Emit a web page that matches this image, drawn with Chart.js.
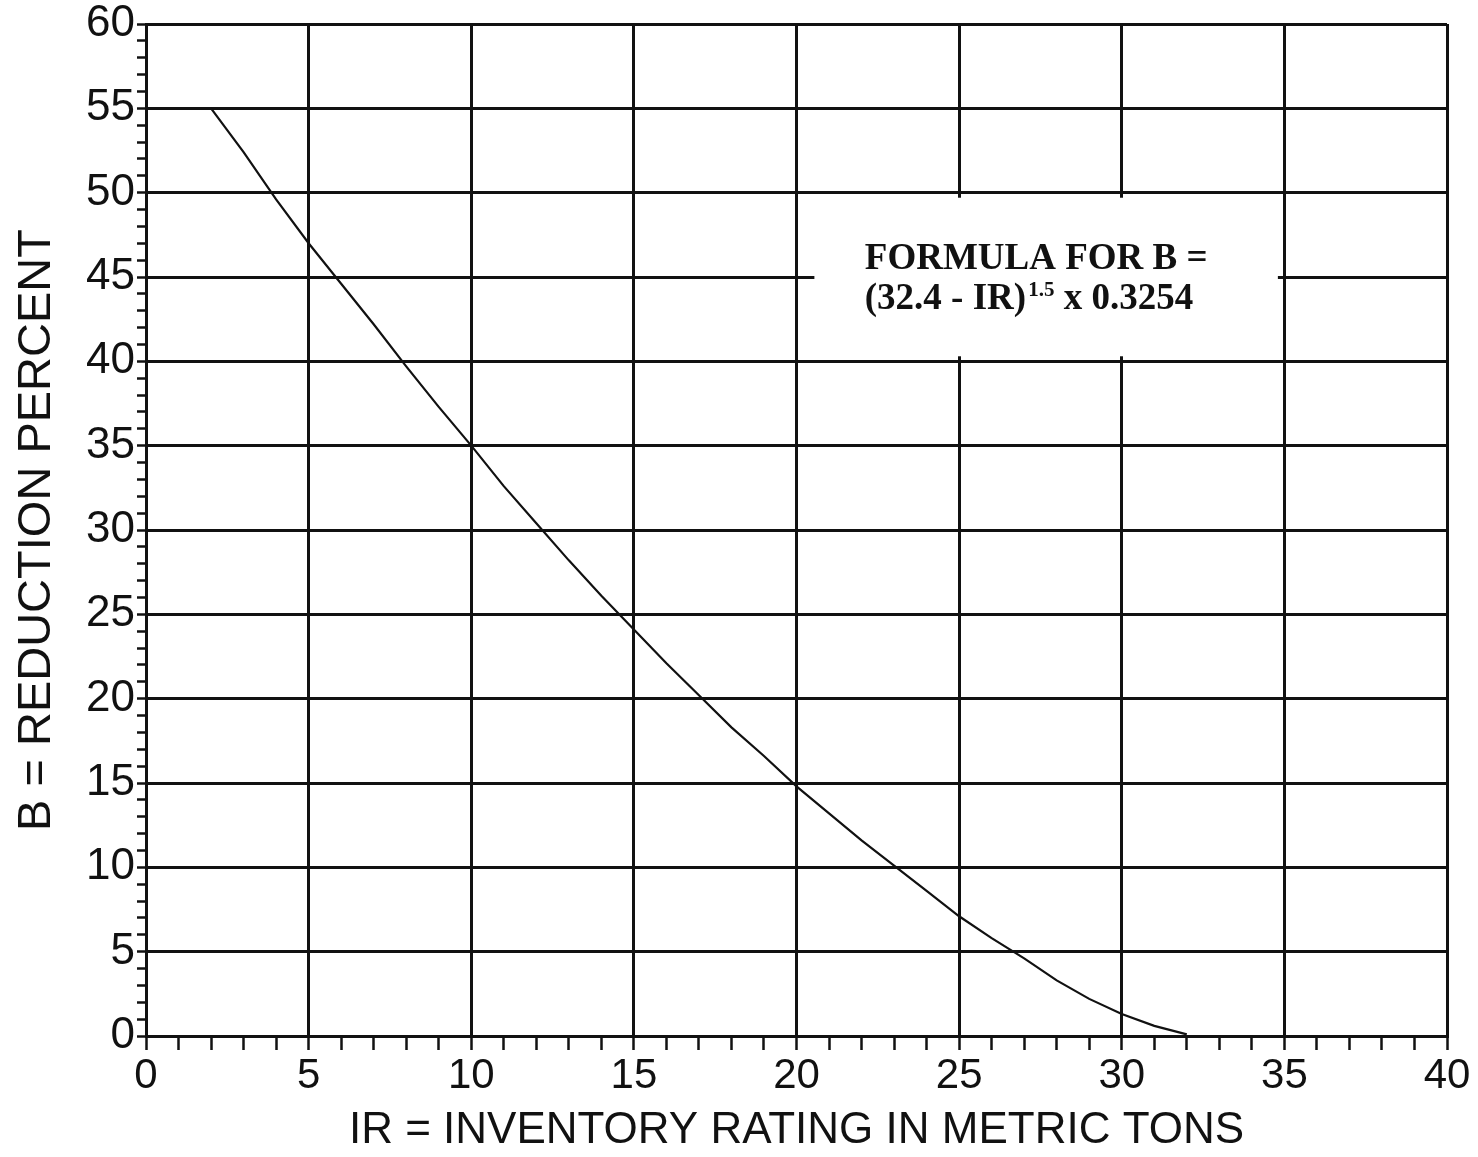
<!DOCTYPE html>
<html>
<head>
<meta charset="utf-8">
<script src="https://cdn.jsdelivr.net/npm/chart.js@4.4.1/dist/chart.umd.min.js"></script>
<style>
  html, body { margin: 0; padding: 0; background: #fff; }
  #wrap { width: 1478px; height: 1157px; }
</style>
</head>
<body>
<div id="wrap"><canvas id="chart" width="1478" height="1157"></canvas></div>
<script>
// values
const irValues = [2, 3, 4, 5, 6, 7, 8, 9, 10, 11, 12, 13, 14, 15, 16, 17, 18, 19, 20,
  21, 22, 23, 24, 25, 26, 27, 28, 29, 30, 31, 32];
const bValues = [55.0, 52.4, 49.6, 47.0, 44.6, 42.2, 39.7, 37.3, 35.0, 32.6, 30.4, 28.2,
  26.1, 24.1, 22.1, 20.2, 18.3, 16.6, 14.8, 13.2, 11.6, 10.1, 8.6, 7.1, 5.8, 4.6, 3.3,
  2.2, 1.3, 0.6, 0.1];

const xTickLabels = ['0', '5', '10', '15', '20', '25', '30', '35', '40'];
const yTickLabels = ['0', '5', '10', '15', '20', '25', '30', '35', '40', '45', '50', '55', '60'];

const xTitle = 'IR = INVENTORY RATING IN METRIC TONS';
const yTitle = 'B = REDUCTION PERCENT';
const formulaLine1 = 'FORMULA FOR B =';
const formulaLine2a = '(32.4 - IR)';
const formulaExp = '1.5';
const formulaLine2b = ' x 0.3254';

const sans = "'Liberation Sans', Arial, sans-serif";
const serif = "'Liberation Serif', 'Times New Roman', serif";

const points = irValues.map((x, i) => ({ x, y: bValues[i] }));

// white box with the formula, placed in data units
const formulaBox = {
  id: 'formulaBox',
  afterDraw(chart) {
    const { ctx, scales: { x, y } } = chart;
    const left = x.getPixelForValue(20.55);
    const right = x.getPixelForValue(34.8);
    const top = y.getPixelForValue(49.7);
    const bottom = y.getPixelForValue(40.3);
    ctx.save();
    ctx.fillStyle = '#fff';
    ctx.fillRect(left, top, right - left, bottom - top);

    ctx.fillStyle = '#111';
    ctx.textBaseline = 'alphabetic';
    ctx.textAlign = 'left';
    ctx.font = 'bold 37px ' + serif;
    const tx = x.getPixelForValue(22.1);
    const b1 = y.getPixelForValue(45.45);
    const b2 = y.getPixelForValue(43.1);
    ctx.fillText(formulaLine1, tx, b1);
    ctx.fillText(formulaLine2a, tx, b2);
    let cx = tx + ctx.measureText(formulaLine2a).width + 2;
    ctx.font = 'bold 21px ' + serif;
    ctx.fillText(formulaExp, cx, b2 - 13);
    cx += ctx.measureText(formulaExp).width;
    ctx.font = 'bold 37px ' + serif;
    ctx.fillText(formulaLine2b, cx, b2);
    ctx.restore();
  }
};

const ctx = document.getElementById('chart').getContext('2d');
new Chart(ctx, {
  type: 'line',
  data: {
    datasets: [{
      data: points,
      borderColor: '#111',
      borderWidth: 2.2,
      pointRadius: 0,
      tension: 0,
      fill: false
    }]
  },
  options: {
    responsive: false,
    animation: false,
    layout: { padding: { top: 24, right: 31, left: 0, bottom: 0 } },
    plugins: {
      legend: { display: false },
      tooltip: { enabled: false }
    },
    scales: {
      x: {
        type: 'linear',
        min: 0,
        max: 40,
        afterFit(scale) { scale.height = 121; },
        border: { display: true, color: '#111', width: 3 },
        grid: {
          color: c => (c.tick && c.tick.value % 5 === 0) ? '#111' : 'rgba(0,0,0,0)',
          lineWidth: 3,
          tickColor: '#111',
          tickWidth: 2.5,
          tickLength: 14,
          drawTicks: true
        },
        ticks: {
          stepSize: 1,
          autoSkip: false,
          maxRotation: 0,
          padding: 5,
          color: '#111',
          font: { family: sans, size: 42, lineHeight: 1 },
          callback: v => (v % 5 === 0 ? xTickLabels[v / 5] : '')
        },
        title: {
          display: true,
          text: xTitle,
          color: '#111',
          font: { family: sans, size: 44 },
          padding: { top: 0, bottom: 0 }
        }
      },
      y: {
        min: 0,
        max: 60,
        afterFit(scale) { scale.width = 146; },
        border: { display: true, color: '#111', width: 3 },
        grid: {
          color: c => (c.tick && c.tick.value % 5 === 0) ? '#111' : 'rgba(0,0,0,0)',
          lineWidth: 3,
          tickColor: '#111',
          tickWidth: 2.5,
          tickLength: 9,
          drawTicks: true
        },
        ticks: {
          stepSize: 1,
          autoSkip: false,
          padding: 2,
          color: '#111',
          font: { family: sans, size: 44, lineHeight: 1 },
          callback: v => (v % 5 === 0 ? yTickLabels[v / 5] : '')
        },
        title: {
          display: true,
          text: yTitle,
          color: '#111',
          font: { family: sans, size: 47 },
          padding: { top: 9, bottom: 0 }
        }
      }
    }
  },
  plugins: [formulaBox]
});
</script>
</body>
</html>
